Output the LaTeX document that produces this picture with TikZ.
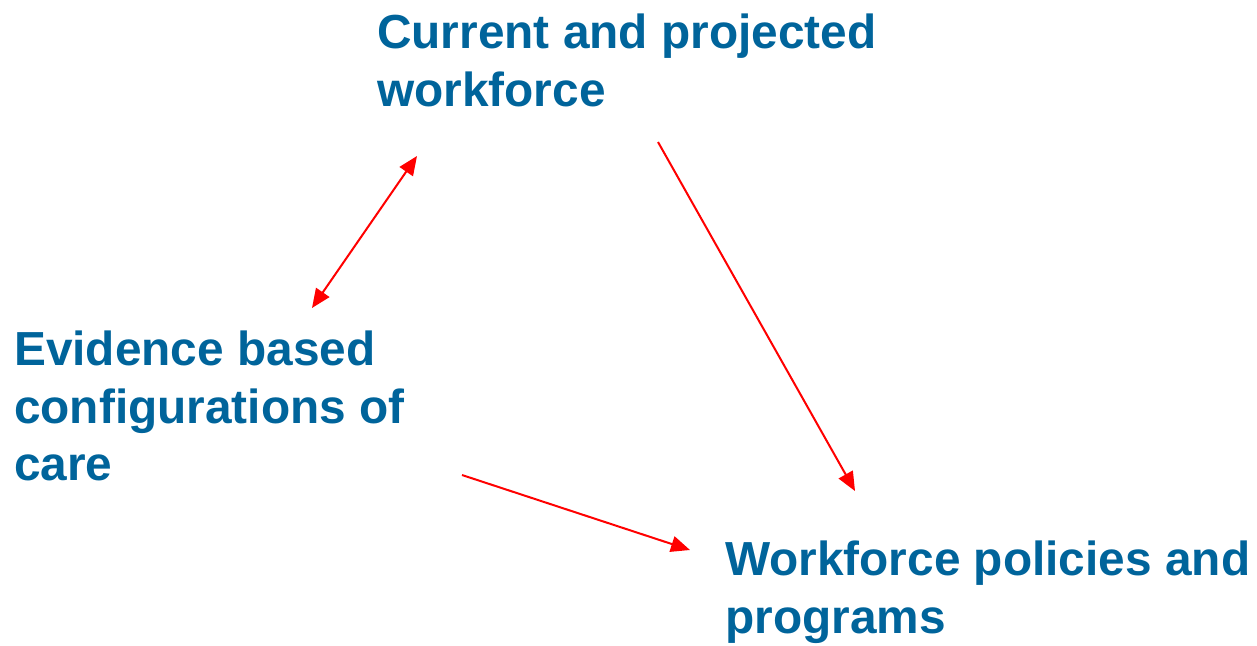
\documentclass[tikz,border=0pt]{standalone}
\usepackage{fontspec}
\setmainfont{Liberation Sans}
\usetikzlibrary{arrows.meta}
\definecolor{titleblue}{RGB}{0,100,155}
\begin{document}
\begin{tikzpicture}[x=1pt,y=-1pt,
  label text/.style={anchor=north west,inner sep=0pt,align=left,text=titleblue,
    font=\fontsize{47.8}{57.3}\selectfont\bfseries},
  link/.style={draw=red,line width=2pt,-{Triangle[length=19pt,width=16pt]}},
  dlink/.style={draw=red,line width=2pt,{Triangle[length=19pt,width=16pt]}-{Triangle[length=19pt,width=16pt]}}]
\useasboundingbox (0,0) rectangle (1257,645);
\node[label text] (cur) at (377,14) {Current and projected\\workforce};
\node[label text] (evi) at (14,331) {Evidence based\\configurations of\\care};
\node[label text] (pol) at (725,541) {Workforce policies and\\programs};
\coordinate (a1) at (312,308);
\coordinate (a2) at (417,156);
\coordinate (b1) at (658,142);
\coordinate (b2) at (855,491);
\coordinate (c1) at (462,475);
\coordinate (c2) at (690,550);
\draw[dlink] (a1) -- (a2);
\draw[link] (b1) -- (b2);
\draw[link] (c1) -- (c2);
\end{tikzpicture}
\end{document}
